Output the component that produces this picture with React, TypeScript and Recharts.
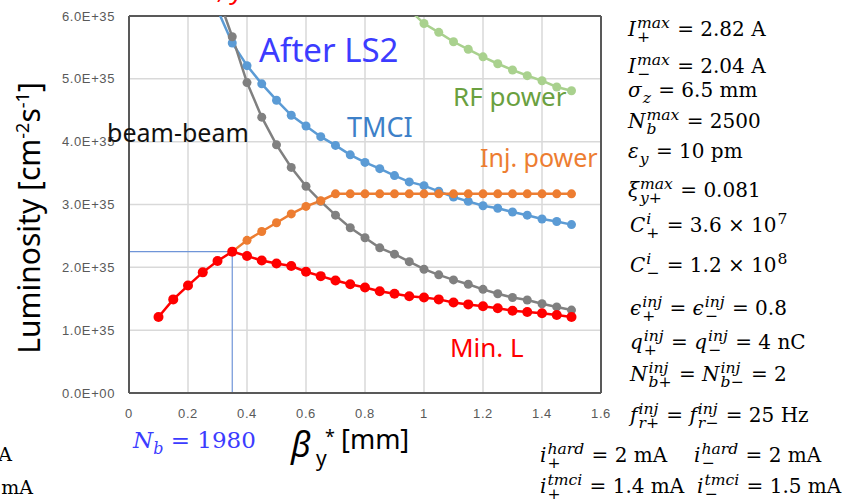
import React from 'react';
import { CartesianGrid, ComposedChart, Line, ReferenceLine, XAxis, YAxis } from 'recharts';

// beta_y* [mm] sampling, luminosity values in units of 1E+35 cm^-2 s^-1
const BETA = [0.1, 0.15, 0.2, 0.25, 0.3, 0.35, 0.4, 0.45, 0.5, 0.55, 0.6, 0.65, 0.7, 0.75, 0.8, 0.85, 0.9, 0.95, 1.0, 1.05, 1.1, 1.15, 1.2, 1.25, 1.3, 1.35, 1.4, 1.45, 1.5];
const MIN_L = [1.21, 1.49, 1.71, 1.92, 2.1, 2.25, 2.18, 2.11, 2.06, 2.02, 1.93, 1.86, 1.79, 1.73, 1.68, 1.62, 1.58, 1.54, 1.52, 1.49, 1.44, 1.41, 1.38, 1.35, 1.31, 1.29, 1.27, 1.24, 1.21];
const BEAM_BEAM = [null, null, null, null, 6.33, 5.67, 4.94, 4.39, 3.95, 3.59, 3.29, 3.05, 2.83, 2.63, 2.47, 2.31, 2.21, 2.09, 1.97, 1.88, 1.8, 1.73, 1.65, 1.58, 1.52, 1.48, 1.42, 1.37, 1.32];
const TMCI = [null, null, null, null, 6.1, 5.57, 5.21, 4.92, 4.66, 4.42, 4.25, 4.08, 3.94, 3.79, 3.67, 3.57, 3.46, 3.36, 3.3, 3.21, 3.12, 3.05, 2.98, 2.94, 2.88, 2.83, 2.77, 2.73, 2.68];
const INJ_POWER = [null, null, null, null, null, 2.25, 2.43, 2.57, 2.71, 2.85, 2.97, 3.06, 3.17, 3.17, 3.17, 3.17, 3.17, 3.17, 3.17, 3.17, 3.17, 3.17, 3.17, 3.17, 3.17, 3.17, 3.17, 3.17, 3.17];
const RF_POWER = [null, null, null, null, null, null, null, null, null, null, null, null, null, null, null, null, null, 6.1, 5.88, 5.74, 5.59, 5.47, 5.35, 5.24, 5.14, 5.05, 4.97, 4.87, 4.81];

const X_TICKS = [0, 0.2, 0.4, 0.6, 0.8, 1, 1.2, 1.4, 1.6];
const Y_TICKS = [0, 1, 2, 3, 4, 5, 6];
const OPERATING_POINT = { beta: 0.35, lumi: 2.25 };

const COLORS = {
  minL: '#ff0000',
  bb: '#808080',
  tmci: '#5b9bd5',
  inj: '#ed7d31',
  rf: '#a9d18e',
};

const rows = BETA.map((b, i) => ({
  beta: b,
  minL: MIN_L[i],
  bb: BEAM_BEAM[i],
  tmci: TMCI[i],
  inj: INJ_POWER[i],
  rf: RF_POWER[i],
}));

const fmtY = (v: number) => (v === 0 ? '0.0E+00' : `${v.toFixed(1)}E+35`);

const tickStyle = { fontFamily: 'Liberation Sans', fontSize: 13, fill: '#595959', letterSpacing: 0.6 };

// stacked super/subscript, Cambria-Math style
const SS = ({ sup, sub }: { sup?: React.ReactNode; sub?: React.ReactNode }) => (
  <span style={{ display: 'inline-grid', fontSize: '0.78em', marginLeft: 1, marginRight: 1 }}>
    <span style={{ gridArea: '1 / 1', transform: 'translateY(-0.52em)' }}>{sup ?? '\u00a0'}</span>
    <span style={{ gridArea: '1 / 1', transform: 'translateY(0.4em)' }}>{sub ?? '\u00a0'}</span>
  </span>
);

const MathLine = ({ x, base, children }: { x: number; base: number; children: React.ReactNode }) => (
  <div
    style={{
      position: 'absolute', left: x, top: base - 17, fontFamily: 'DejaVu Serif', fontSize: 20,
      lineHeight: 1, whiteSpace: 'nowrap', color: '#000',
    }}
  >
    {children}
  </div>
);

function series(key: keyof typeof COLORS, r = 4.5) {
  const c = COLORS[key];
  return (
    <Line
      key={key}
      dataKey={key}
      type="linear"
      stroke={c}
      strokeWidth={2.5}
      dot={{ r, fill: c, stroke: c, strokeWidth: 0 }}
      activeDot={false}
      isAnimationActive={false}
    />
  );
}

export default function App() {
  const lab = { fontFamily: 'Noto Sans' };
  return (
    <div style={{ position: 'absolute', left: 0, top: 0, width: 842, height: 499, background: '#fff', overflow: 'hidden' }}>
      <ComposedChart width={842} height={499} data={rows} margin={{ top: 16, right: 241, bottom: 76, left: 0 }}>
        <CartesianGrid stroke="#d9d9d9" strokeWidth={1.5} />
        <XAxis
          dataKey="beta"
          type="number"
          domain={[0, 1.6]}
          ticks={X_TICKS}
          height={30}
          tickSize={0}
          tickMargin={16}
          tick={tickStyle}
          axisLine={{ stroke: '#595959', strokeWidth: 2 }}
        />
        <YAxis
          type="number"
          domain={[0, 6]}
          ticks={Y_TICKS}
          allowDataOverflow
          width={129}
          tickSize={0}
          tickMargin={14}
          tickFormatter={fmtY}
          tick={tickStyle}
          axisLine={{ stroke: '#595959', strokeWidth: 2 }}
        />
        <ReferenceLine y={6} stroke="#595959" strokeWidth={2} />
        <ReferenceLine x={1.6} stroke="#595959" strokeWidth={2} />
        <ReferenceLine
          segment={[{ x: 0, y: OPERATING_POINT.lumi }, { x: OPERATING_POINT.beta, y: OPERATING_POINT.lumi }]}
          stroke="#6f95d8"
          strokeWidth={1.2}
        />
        <ReferenceLine
          segment={[{ x: OPERATING_POINT.beta, y: 0 }, { x: OPERATING_POINT.beta, y: OPERATING_POINT.lumi }]}
          stroke="#6f95d8"
          strokeWidth={1.2}
        />
        {series('rf')}
        {series('tmci')}
        {series('bb')}
        {series('inj')}
        {series('minL', 5)}
      </ComposedChart>

      <svg width={842} height={499} style={{ position: 'absolute', left: 0, top: 0, pointerEvents: 'none' }}>
        <text x={244} y={-1} textAnchor="end" fill="#ff0000" fontSize={26} fontStyle="italic" {...lab}>, y</text>
        <text x={259} y={62} fill="#3c3cff" fontSize={33} {...lab}>After LS2</text>
        <text x={107} y={142} fill="#111" fontSize={25} {...lab}>beam-beam</text>
        <text x={347} y={137} fill="#3d80c8" fontSize={27} {...lab}>TMCI</text>
        <text x={453} y={106} fill="#6aa040" fontSize={26} {...lab}>RF power</text>
        <text x={480} y={167} fill="#ed7d31" fontSize={25} {...lab}>Inj. power</text>
        <text x={450} y={357} fill="#ff0000" fontSize={26} {...lab}>Min. L</text>

        <text transform="translate(40,218) rotate(-90)" textAnchor="middle" fontSize={30} fill="#000" {...lab}>
          Luminosity [cm<tspan dy={-11} fontSize={18}>-2</tspan>
          <tspan dy={11}>s</tspan>
          <tspan dy={-11} fontSize={18}>-1</tspan>
          <tspan dy={11}>]</tspan>
        </text>

        <text x={291} y={457} fontSize={34} fontStyle="italic" fill="#000" {...lab}>β</text>
        <text x={316} y={466} fontSize={21} fill="#000" {...lab}>y</text>
        <text x={325} y={443} fontSize={18} fill="#000" {...lab}>*</text>
        <text x={341} y={449} fontSize={27} fill="#000" {...lab}>[mm]</text>

        <text x={133} y={448} fontSize={23} fill="#3c3cff" fontFamily="DejaVu Serif">
          <tspan fontStyle="italic">N</tspan>
          <tspan dy={6} fontSize={16} fontStyle="italic">b</tspan>
          <tspan dy={-6}> = 1980</tspan>
        </text>

        <text x={12} y={461} textAnchor="end" fontSize={19} fill="#000" fontFamily="DejaVu Serif">A</text>
        <text x={33} y={494} textAnchor="end" fontSize={19} fill="#000" fontFamily="DejaVu Serif">mA</text>
      </svg>

      <MathLine x={628} base={36}><i>I</i><SS sup={<i>max</i>} sub="+" /> = 2.82 A</MathLine>
      <MathLine x={628} base={73}><i>I</i><SS sup={<i>max</i>} sub="−" /> = 2.04 A</MathLine>
      <MathLine x={628} base={97}><i>σ</i><SS sub={<i>z</i>} /> = 6.5 mm</MathLine>
      <MathLine x={628} base={128}><i>N</i><SS sup={<i>max</i>} sub={<i>b</i>} /> = 2500</MathLine>
      <MathLine x={628} base={158}><i>ε</i><SS sub={<i>y</i>} /> = 10 pm</MathLine>
      <MathLine x={628} base={197}><i>ξ</i><SS sup={<i>max</i>} sub={<><i>y</i>+</>} /> = 0.081</MathLine>
      <MathLine x={630} base={232}><i>C</i><SS sup={<i>i</i>} sub="+" /> = 3.6 × 10<SS sup="7" /></MathLine>
      <MathLine x={630} base={272}><i>C</i><SS sup={<i>i</i>} sub="−" /> = 1.2 × 10<SS sup="8" /></MathLine>
      <MathLine x={630} base={315}><i>ϵ</i><SS sup={<i>inj</i>} sub="+" /> = <i>ϵ</i><SS sup={<i>inj</i>} sub="−" /> = 0.8</MathLine>
      <MathLine x={630} base={349}><i>q</i><SS sup={<i>inj</i>} sub="+" /> = <i>q</i><SS sup={<i>inj</i>} sub="−" /> = 4 nC</MathLine>
      <MathLine x={630} base={381}><i>N</i><SS sup={<i>inj</i>} sub={<><i>b</i>+</>} /> = <i>N</i><SS sup={<i>inj</i>} sub={<><i>b</i>−</>} /> = 2</MathLine>
      <MathLine x={630} base={422}><i>f</i><SS sup={<i>inj</i>} sub={<><i>r</i>+</>} /> = <i>f</i><SS sup={<i>inj</i>} sub={<><i>r</i>−</>} /> = 25 Hz</MathLine>
      <MathLine x={540} base={462}><i>i</i><SS sup={<i>hard</i>} sub="+" /> = 2 mA</MathLine>
      <MathLine x={694} base={462}><i>i</i><SS sup={<i>hard</i>} sub="−" /> = 2 mA</MathLine>
      <MathLine x={540} base={493}><i>i</i><SS sup={<i>tmci</i>} sub="+" /> = 1.4 mA</MathLine>
      <MathLine x={697} base={493}><i>i</i><SS sup={<i>tmci</i>} sub="−" /> = 1.5 mA</MathLine>
    </div>
  );
}
